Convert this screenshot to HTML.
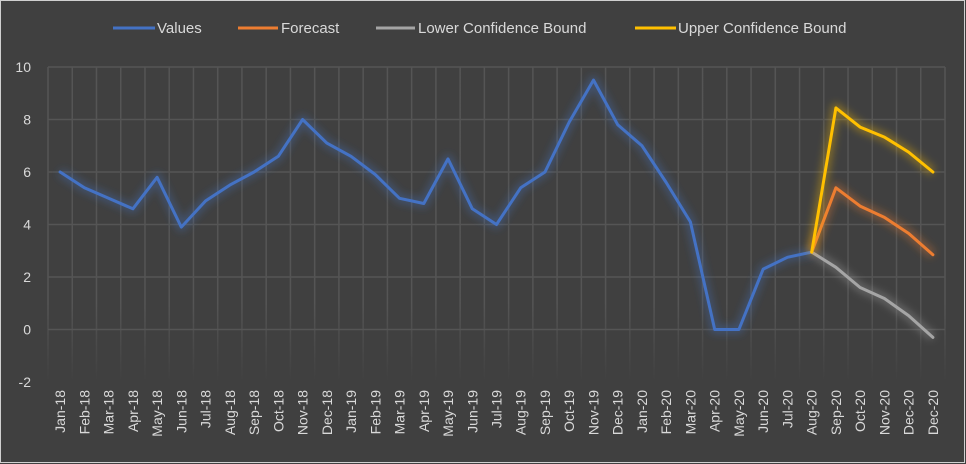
<!DOCTYPE html>
<html><head><meta charset="utf-8"><style>
html,body{margin:0;padding:0;background:#404040;}
svg{display:block;font-family:"Liberation Sans",sans-serif;}
</style></head><body>
<svg id="chart" width="966" height="464" viewBox="0 0 966 464" xmlns="http://www.w3.org/2000/svg">
<defs>
<filter id="glow" x="-20%" y="-20%" width="140%" height="140%"><feGaussianBlur stdDeviation="4"/></filter>
<linearGradient id="fade" x1="0" y1="0" x2="0" y2="1"><stop offset="0" stop-color="#555" stop-opacity="1"/><stop offset="0.75" stop-color="#555" stop-opacity="1"/><stop offset="1" stop-color="#555" stop-opacity="0"/></linearGradient>
</defs>
<rect x="0.5" y="0.5" width="964" height="462" fill="#404040" stroke="#d0d0d0" stroke-width="1"/>
<g id="grid"></g>
<g id="yaxis"></g>
<g id="xaxis"></g>
<g id="series"></g>
<g id="legend">
  <g><line x1="113" y1="28" x2="155" y2="28" stroke="#4472C4" stroke-width="3"/><text x="157" y="33" fill="#d9d9d9" font-size="15">Values</text></g>
  <g><line x1="238" y1="28" x2="278" y2="28" stroke="#ED7D31" stroke-width="3"/><text x="281" y="33" fill="#d9d9d9" font-size="15">Forecast</text></g>
  <g><line x1="376" y1="28" x2="415" y2="28" stroke="#A5A5A5" stroke-width="3"/><text x="418" y="33" fill="#d9d9d9" font-size="15">Lower Confidence Bound</text></g>
  <g><line x1="635" y1="28" x2="676" y2="28" stroke="#FFC000" stroke-width="3"/><text x="678" y="33" fill="#d9d9d9" font-size="15">Upper Confidence Bound</text></g>
</g>
</svg>
<script>
const categories = ["Jan-18","Feb-18","Mar-18","Apr-18","May-18","Jun-18","Jul-18","Aug-18","Sep-18","Oct-18","Nov-18","Dec-18","Jan-19","Feb-19","Mar-19","Apr-19","May-19","Jun-19","Jul-19","Aug-19","Sep-19","Oct-19","Nov-19","Dec-19","Jan-20","Feb-20","Mar-20","Apr-20","May-20","Jun-20","Jul-20","Aug-20","Sep-20","Oct-20","Nov-20","Dec-20","Dec-20"];
const values = [6.0,5.4,5.0,4.6,5.8,3.9,4.9,5.5,6.0,6.6,8.0,7.1,6.6,5.9,5.0,4.8,6.5,4.6,4.0,5.4,6.0,7.9,9.5,7.8,7.0,5.6,4.1,0,0,2.3,2.75,2.95,null,null,null,null,null];
const forecast = [null,null,null,null,null,null,null,null,null,null,null,null,null,null,null,null,null,null,null,null,null,null,null,null,null,null,null,null,null,null,null,2.95,5.4,4.7,4.27,3.66,2.85];
const lowerBound = [null,null,null,null,null,null,null,null,null,null,null,null,null,null,null,null,null,null,null,null,null,null,null,null,null,null,null,null,null,null,null,2.95,2.37,1.6,1.18,0.53,-0.3];
const upperBound = [null,null,null,null,null,null,null,null,null,null,null,null,null,null,null,null,null,null,null,null,null,null,null,null,null,null,null,null,null,null,null,2.95,8.44,7.71,7.33,6.76,6.0];
const yTicks = [-2,0,2,4,6,8,10];

const NS = "http://www.w3.org/2000/svg";
const L = 48, R = 945, T = 67, yMin = -2, yMax = 10, B = 382;
const step = (R - L) / categories.length;
function xPos(i){ return L + step * (i + 0.5); }
function yPos(v){ return B - (v - yMin) / (yMax - yMin) * (B - T); }
function mk(tag, attrs, parent){ const e = document.createElementNS(NS, tag); for (const k in attrs) e.setAttribute(k, attrs[k]); parent.appendChild(e); return e; }

const grid = document.getElementById('grid');
for (let i = 0; i <= categories.length; i++) {
  const x = L + step * i;
  const gl = mk('rect', {x: x - 0.75, y: T, width: 1.5, height: B - T, fill: 'url(#fade)'}, grid);
  
  
}
const yax = document.getElementById('yaxis');
yTicks.forEach(v => {
  if (v > yMin) {
    const hl = mk('line', {x1: L, x2: R, y1: yPos(v), y2: yPos(v), stroke: '#555', 'stroke-width': 1.5}, grid);
    
    
  }
  const t = mk('text', {x: 31, y: yPos(v) + 5, 'text-anchor': 'end', fill: '#d9d9d9', 'font-size': 14}, yax);
  t.textContent = v;
  
  
});
const xax = document.getElementById('xaxis');
categories.forEach((c, i) => {
  const t = mk('text', {x: 0, y: 0, 'text-anchor': 'end', fill: '#d9d9d9', 'font-size': 14, transform: `translate(${xPos(i) + 5},390) rotate(-90)`}, xax);
  t.textContent = c;
  
  
});

const ser = document.getElementById('series');
function drawSeries(arr, color, name) {
  const pts = [];
  arr.forEach((v, i) => { if (v !== null) pts.push(xPos(i).toFixed(1) + ',' + yPos(v).toFixed(1)); });
  const g = mk('polyline', {points: pts.join(' '), fill: 'none', stroke: color, 'stroke-width': 9, 'stroke-opacity': 0.35, filter: 'url(#glow)', 'stroke-linejoin': 'round'}, ser);
  
  
  const p = mk('polyline', {points: pts.join(' '), fill: 'none', stroke: color, 'stroke-width': 3, 'stroke-linejoin': 'round', 'stroke-linecap': 'round'}, ser);
  
  
}
drawSeries(values, '#4472C4', 'values');
drawSeries(lowerBound, '#A5A5A5', 'lower-bound');
drawSeries(forecast, '#ED7D31', 'forecast');
drawSeries(upperBound, '#FFC000', 'upper-bound');
</script>
</body></html>
